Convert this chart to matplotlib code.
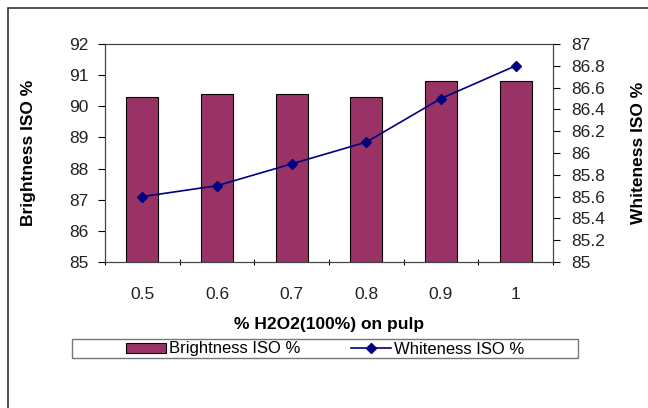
import numpy as np
import matplotlib.pyplot as plt
from matplotlib.patches import Rectangle

plt.rcParams['font.family'] = ['Liberation Sans', 'DejaVu Sans']

# Data
h2o2_dose = ['0.5', '0.6', '0.7', '0.8', '0.9', '1']
brightness = [90.3, 90.4, 90.4, 90.3, 90.8, 90.8]
whiteness = [85.6, 85.7, 85.9, 86.1, 86.5, 86.8]

fig = plt.figure(figsize=(6.48, 4.08), dpi=100)
ax = fig.add_axes([105 / 648, 1 - 262 / 408, 448 / 648, 218 / 408])

x = np.arange(len(h2o2_dose))
bars = ax.bar(x, brightness, width=0.43, color='#993366', edgecolor='black',
              linewidth=0.8, label='Brightness ISO %', zorder=2)
ax.set_xlim(-0.5, len(h2o2_dose) - 0.5)
ax.set_ylim(85, 92)
ax.set_yticks(range(85, 93))
ax.set_xticks(x)
ax.set_xticklabels(h2o2_dose)
ax.set_xticks(np.arange(-0.5, len(h2o2_dose)), minor=True)
ax.tick_params(axis='x', which='major', length=0, pad=18, labelsize=12.5,
               labelcolor='#222222')
ax.tick_params(axis='x', which='minor', length=5, direction='inout', width=0.8)
ax.tick_params(axis='y', length=5, width=0.8, labelsize=12.5, pad=7,
               labelcolor='#222222')
ax.set_xlabel('% H2O2(100%) on pulp', fontsize=12.5, fontweight='bold', labelpad=11)
ax.set_ylabel('Brightness ISO %', fontsize=12.5, fontweight='bold')
ax.yaxis.set_label_coords(-0.155, 0.5)
for s in ax.spines.values():
    s.set_linewidth(0.8)
    s.set_color('#444444')

ax2 = ax.twinx()
line, = ax2.plot(x, whiteness, color='#000080', marker='D', markersize=5,
                 linewidth=1.2, label='Whiteness ISO %', zorder=3)
ax2.set_ylim(85, 87)
ax2.set_yticks(np.round(np.arange(85, 87.01, 0.2), 1))
ax2.set_yticklabels(['85', '85.2', '85.4', '85.6', '85.8', '86', '86.2',
                     '86.4', '86.6', '86.8', '87'])
ax2.tick_params(axis='y', length=5, width=0.8, labelsize=12.5, pad=8,
                labelcolor='#222222')
ax2.set_ylabel('Whiteness ISO %', fontsize=12.5, fontweight='bold')
ax2.yaxis.set_label_coords(1.175, 0.5)
for s in ax2.spines.values():
    s.set_linewidth(0.8)
    s.set_color('#444444')

leg = fig.legend(handles=[bars, line], loc='center',
                 bbox_to_anchor=(325 / 648, 1 - 349 / 408), ncol=2,
                 fontsize=12, frameon=False,
                 handlelength=2.4, columnspacing=3.0, borderpad=0.1,
                 handletextpad=0.2, handleheight=0.55)

# legend frame as drawn in the source chart
fig.patches.append(Rectangle((72 / 648, 1 - 358 / 408), 506 / 648, 19 / 408,
                             transform=fig.transFigure, fill=False,
                             edgecolor='#777777', linewidth=1.0))

# outer chart border
fig.patches.append(Rectangle((8 / 648, -0.01), 1, 1 - 8 / 408 + 0.01,
                             transform=fig.transFigure, fill=False,
                             edgecolor='#333333', linewidth=1.2))

fig.savefig('out.png', dpi=100)
